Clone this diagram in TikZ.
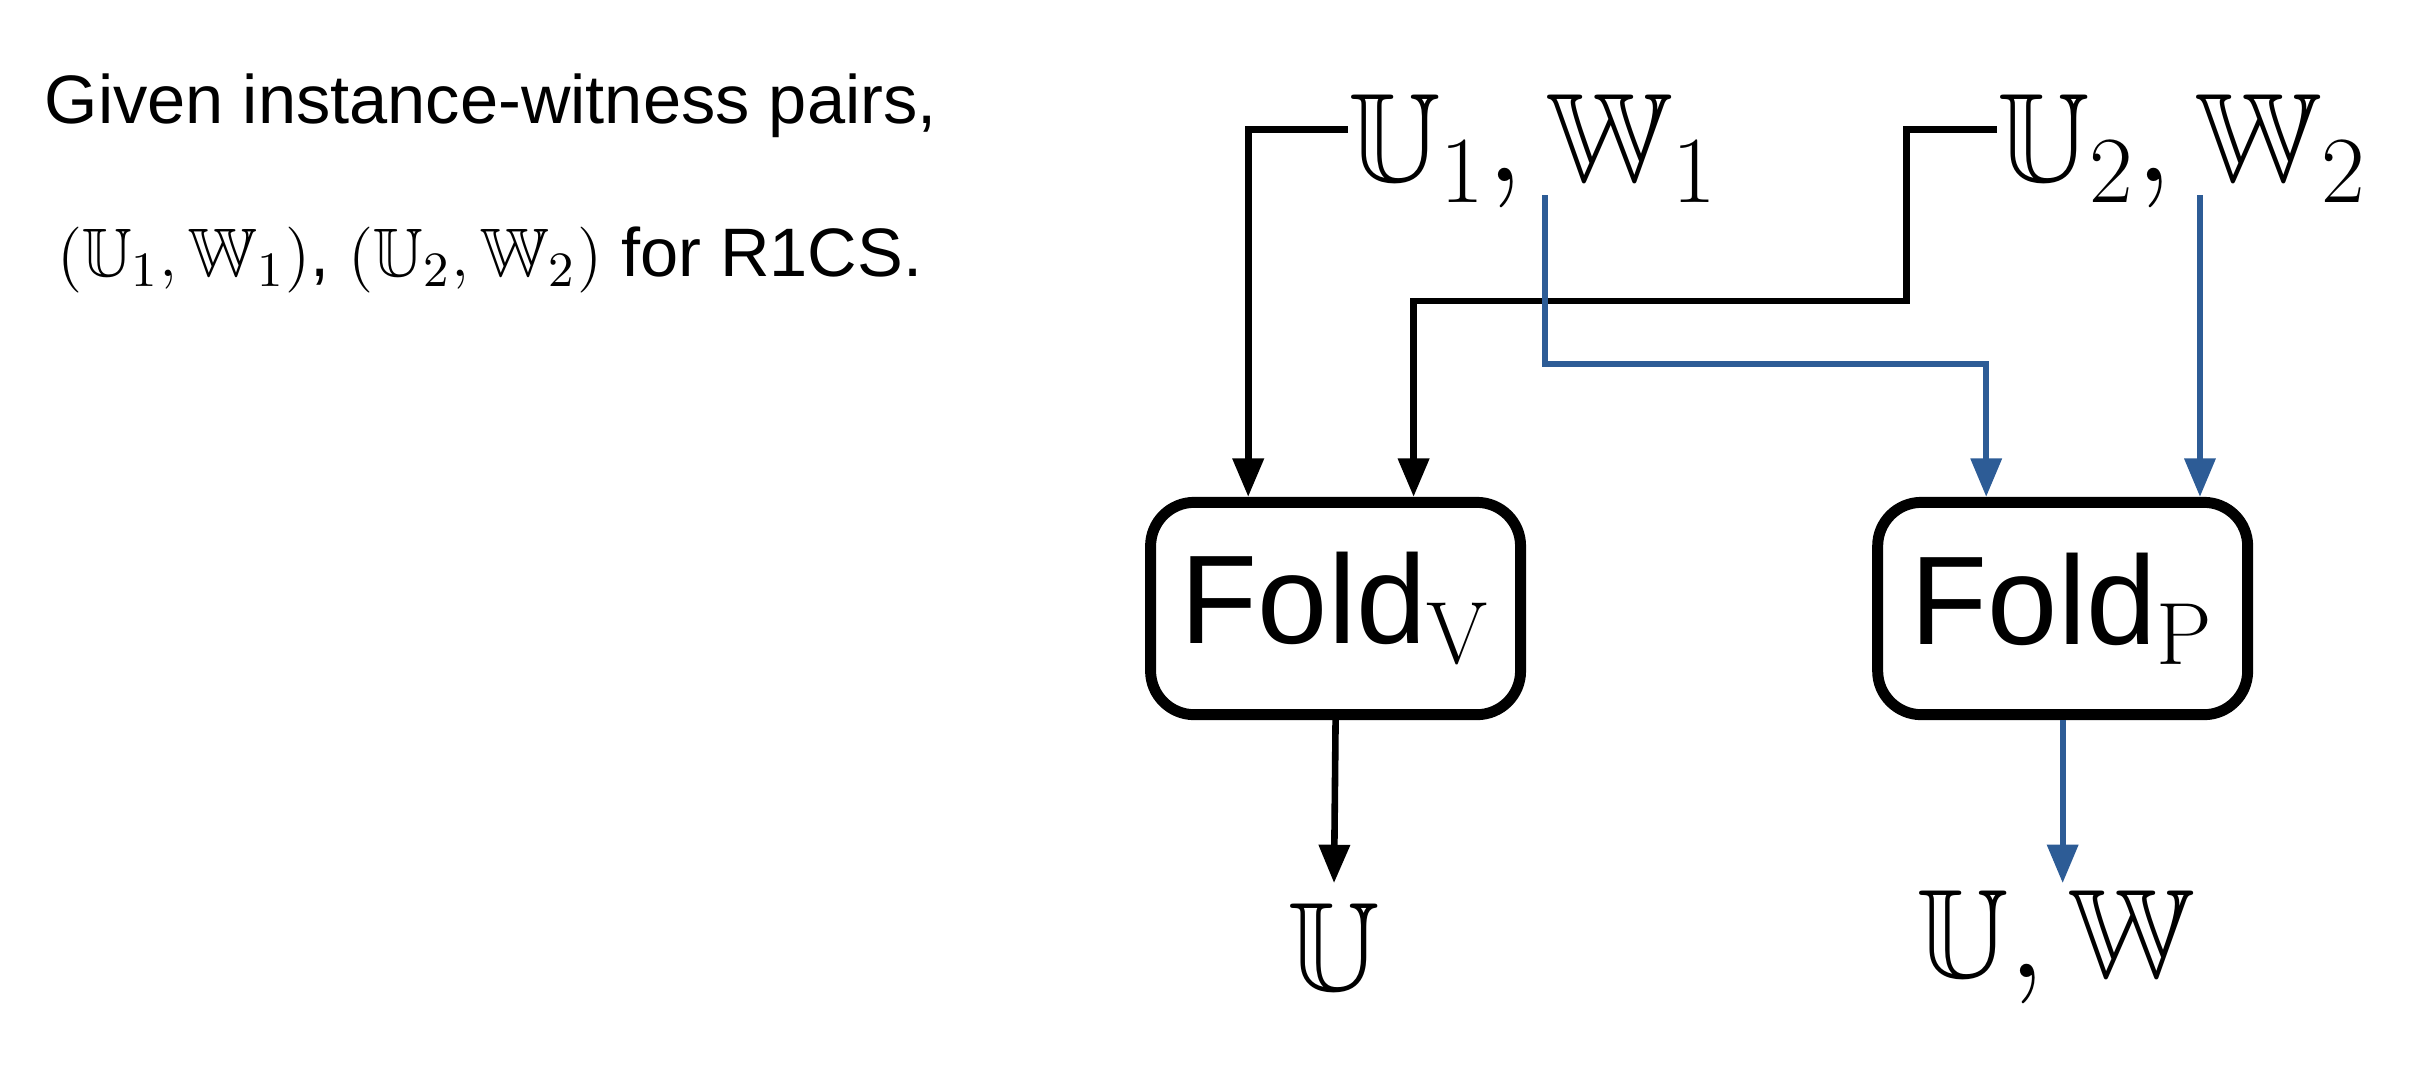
\documentclass[tikz,border=0pt]{standalone}
\usepackage{amssymb}
\usepackage{fontspec}
\setsansfont{Liberation Sans}
\usetikzlibrary{arrows.meta}
\definecolor{bl}{RGB}{45,92,150}
\begin{document}
\begin{tikzpicture}[x=0.01cm,y=-0.01cm,
  blk/.style={line width=1.2pt,-{Triangle[length=7pt,width=5.5pt]}},
  blu/.style={line width=1.1pt,draw=bl,-{Triangle[length=7pt,width=5.5pt]},color=bl},
  fold/.style={draw,line width=2pt,rounded corners=0.28cm,minimum width=2.37cm,minimum height=1.36cm,font=\sffamily\fontsize{23}{26}\selectfont},
  mth/.style={inner sep=0pt,font=\fontsize{23}{26}\selectfont},
  lt/.style={inner sep=0pt,anchor=base west,font=\sffamily\fontsize{12.5}{15}\selectfont}]
\useasboundingbox (0,0) rectangle (1560,696);
\node[lt] (l1) at (28,79) {Given instance-witness pairs,};
\node[lt] (l2) at (36,177) {$(\mathbb{U}_1,\mathbb{W}_1)$, $(\mathbb{U}_2,\mathbb{W}_2)$ for R1CS.};
\node[mth,anchor=west] (a) at (864,97) {$\mathbb{U}_1,\mathbb{W}_1$};
\node[mth,anchor=west] (b) at (1280,97) {$\mathbb{U}_2,\mathbb{W}_2$};
\node[fold] (fv) at (856,390) {Fold$_{\mathrm{V}}$};
\node[fold] (fp) at (1322,390) {Fold$_{\mathrm{P}}$};
\node[mth] (o1) at (855,607) {$\mathbb{U}$};
\node[mth] (o2) at (1318,607) {$\mathbb{U},\mathbb{W}$};
\coordinate (as) at (864,83);
\coordinate (bs) at (1280,83);
\coordinate (aw) at (990,125);
\coordinate (bw) at (1410,125);
\draw[blk] (as) -- (800,83) -- (800,390 |- fv.north);
\draw[blk] (bs) -- (1222,83) -- (1222,193) -- (906,193) -- (906,390 |- fv.north);
\draw[blu] (aw) -- (990,233) -- (1273,233) -- (1273,390 |- fp.north);
\draw[blu] (bw) -- (1410,390 |- fp.north);
\draw[blk] (fv.south) -- (855,566);
\draw[blu] (fp.south) -- (1322,566);
\end{tikzpicture}
\end{document}
